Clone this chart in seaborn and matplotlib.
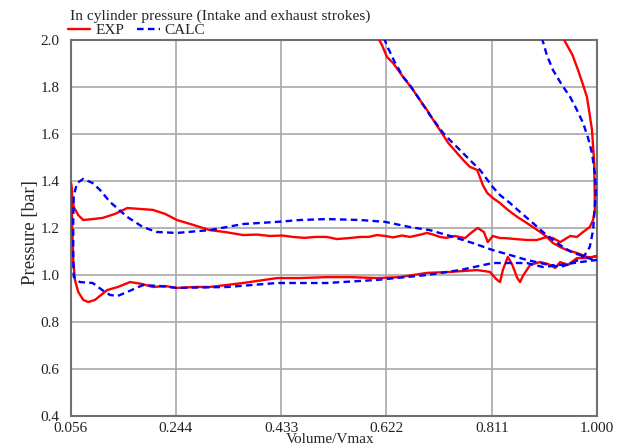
import matplotlib
matplotlib.use("Agg")
import matplotlib.pyplot as plt
import seaborn as sns
import pandas as pd

# ---------------- data ----------------
exp_x = [0.939, 0.956, 0.966, 0.975, 0.982, 0.987, 0.991, 0.995, 0.996, 0.996, 0.993, 0.987, 0.975, 0.964,
         0.952, 0.934, 0.921, 0.910, 0.892, 0.874, 0.853, 0.835, 0.826, 0.813, 0.804, 0.797, 0.786, 0.776,
         0.763, 0.745, 0.730, 0.718, 0.706, 0.695, 0.680, 0.664, 0.650, 0.634, 0.620, 0.605, 0.590, 0.575,
         0.555, 0.533, 0.515, 0.494, 0.475, 0.454, 0.435, 0.413, 0.390, 0.365, 0.332,
         0.305, 0.270, 0.246, 0.225, 0.203, 0.180, 0.157, 0.135, 0.113, 0.095, 0.078, 0.069, 0.061, 0.058,
         0.056,
         0.058, 0.060, 0.063, 0.069, 0.078, 0.087, 0.099, 0.121, 0.140, 0.162, 0.183, 0.203, 0.225, 0.246,
         0.279, 0.305, 0.365, 0.426, 0.467, 0.515, 0.557, 0.605, 0.646, 0.695, 0.736, 0.785, 0.808, 0.819,
         0.826, 0.831, 0.840, 0.848, 0.857, 0.862, 0.867, 0.880, 0.898, 0.912, 0.925, 0.934, 0.948, 0.964,
         0.982, 1.000,
         0.987, 0.964, 0.946, 0.934, 0.921, 0.910, 0.898, 0.885, 0.871, 0.857, 0.840, 0.826, 0.813, 0.803,
         0.795, 0.785, 0.772, 0.760, 0.749, 0.733, 0.718, 0.706, 0.695, 0.682, 0.670, 0.652, 0.634, 0.623,
         0.614, 0.607]
exp_y = [2.009, 1.936, 1.872, 1.809, 1.757, 1.681, 1.617, 1.477, 1.332, 1.277, 1.234, 1.204, 1.183, 1.162,
         1.166, 1.140, 1.157, 1.162, 1.149, 1.149, 1.153, 1.157, 1.157, 1.166, 1.140, 1.183, 1.200, 1.183,
         1.157, 1.166, 1.158, 1.162, 1.172, 1.179, 1.170, 1.162, 1.168, 1.160, 1.166, 1.170, 1.162, 1.162,
         1.157, 1.153, 1.162, 1.162, 1.158, 1.162, 1.168, 1.166, 1.172, 1.170, 1.183,
         1.191, 1.217, 1.234, 1.260, 1.277, 1.281, 1.285, 1.260, 1.243, 1.238, 1.234, 1.255, 1.289, 1.340,
         1.390,
         1.234, 1.064, 0.979, 0.928, 0.894, 0.885, 0.894, 0.936, 0.949, 0.970, 0.962, 0.949, 0.953, 0.945,
         0.949, 0.949, 0.966, 0.987, 0.987, 0.991, 0.991, 0.987, 0.991, 1.009, 1.013, 1.021, 1.013, 0.983,
         0.970, 1.021, 1.077, 1.043, 0.987, 0.970, 0.996, 1.043, 1.055, 1.047, 1.030, 1.055, 1.043, 1.072,
         1.072, 1.081,
         1.072, 1.094, 1.106, 1.119, 1.136, 1.162, 1.183, 1.204, 1.226, 1.247, 1.277, 1.306, 1.328, 1.349,
         1.383, 1.447, 1.460, 1.489, 1.519, 1.562, 1.617, 1.660, 1.702, 1.745, 1.787, 1.843, 1.902, 1.928,
         1.979, 2.009]

calc_x = [0.901, 0.910, 0.921, 0.937, 0.952, 0.964, 0.975, 0.984, 0.991, 0.996, 0.998, 0.996, 0.993, 0.987,
          0.978, 0.966,
          0.952, 0.934, 0.906, 0.874, 0.844, 0.813, 0.777, 0.742, 0.700, 0.664, 0.620, 0.575, 0.515, 0.467,
          0.426, 0.365, 0.305, 0.246, 0.210, 0.185, 0.157, 0.126, 0.108, 0.095, 0.078, 0.067, 0.061, 0.060,
          0.060, 0.061,
          0.072, 0.095, 0.112, 0.126, 0.140, 0.157, 0.185, 0.216, 0.246, 0.336, 0.426, 0.515, 0.605, 0.695,
          0.754, 0.813, 0.874, 0.903, 0.934, 0.970, 1.000,
          0.993, 0.975, 0.957, 0.939, 0.921, 0.903, 0.885, 0.862, 0.844, 0.826, 0.813, 0.790, 0.772, 0.754,
          0.736, 0.724, 0.700, 0.682, 0.664, 0.652, 0.637, 0.625, 0.619, 0.618]
calc_y = [2.009, 1.936, 1.872, 1.809, 1.757, 1.702, 1.647, 1.583, 1.519, 1.434, 1.362, 1.289, 1.191, 1.119,
          1.085, 1.064,
          1.047, 1.034, 1.047, 1.064, 1.085, 1.106, 1.136, 1.162, 1.191, 1.204, 1.226, 1.234, 1.238, 1.234,
          1.226, 1.217, 1.191, 1.179, 1.183, 1.204, 1.247, 1.311, 1.362, 1.391, 1.409, 1.391, 1.340, 1.234,
          1.064, 0.992,
          0.970, 0.966, 0.936, 0.915, 0.911, 0.928, 0.957, 0.953, 0.945, 0.949, 0.966, 0.966, 0.979, 1.000,
          1.021, 1.051, 1.051, 1.034, 1.043, 1.055, 1.064,
          1.064, 1.081, 1.094, 1.119, 1.149, 1.183, 1.221, 1.268, 1.306, 1.340, 1.374, 1.447, 1.489, 1.532,
          1.574, 1.604, 1.681, 1.745, 1.809, 1.843, 1.906, 1.966, 2.000, 2.013]

x_ticks = [0.056, 0.244, 0.433, 0.622, 0.811, 1.000]
x_tick_labels = ["0.056", "0.244", "0.433", "0.622", "0.811", "1.000"]
y_ticks = [0.4, 0.6, 0.8, 1.0, 1.2, 1.4, 1.6, 1.8, 2.0]
y_tick_labels = ["0.4", "0.6", "0.8", "1.0", "1.2", "1.4", "1.6", "1.8", "2.0"]

title = "In cylinder pressure (Intake and exhaust strokes)"
series_names = ["EXP", "CALC"]

# ---------------- plot ----------------
sns.set_theme(style="white")
plt.rcParams['font.family'] = ['Liberation Serif', 'DejaVu Serif']

fig = plt.figure(figsize=(6.2, 4.48), dpi=100)
ax = fig.add_axes([71 / 620, 1 - 416 / 448, 526 / 620, 376 / 448])

df_exp = pd.DataFrame({"x": exp_x, "y": exp_y})
df_calc = pd.DataFrame({"x": calc_x, "y": calc_y})

sns.lineplot(data=df_exp, x="x", y="y", sort=False, estimator=None, ax=ax,
             color="#ff0000", linewidth=1.7, label=series_names[0], zorder=3)
sns.lineplot(data=df_calc, x="x", y="y", sort=False, estimator=None, ax=ax,
             color="#0000ff", linewidth=1.7, label=series_names[1], zorder=4,
             dashes=False)
ax.lines[1].set_linestyle((0, (2.8, 1.8)))

ax.set_xlim(0.056, 1.0)
ax.set_ylim(0.4, 2.0)
ax.set_xticks(x_ticks)
ax.set_xticklabels(x_tick_labels)
ax.set_yticks(y_ticks)
ax.set_yticklabels(y_tick_labels)
ax.grid(True, color="#a8a8a8", linewidth=1.2)
ax.set_axisbelow(True)
for s in ax.spines.values():
    s.set_color("#707070")
    s.set_linewidth(1.5)
ax.tick_params(axis="both", length=0, labelsize=11, colors="#222222")
ax.tick_params(axis="y", pad=8.5)
ax.tick_params(axis="x", pad=4.5)

ax.set_xlabel("Volume/Vmax", fontsize=11)
ax.set_ylabel("Pressure [bar]", fontsize=13.5)
ax.xaxis.set_label_coords(0.492, -0.045)
ax.yaxis.set_label_coords(-0.06, 0.487)

fig.text(70 / 620, 1 - 16 / 448, title, fontsize=11.1, ha="left", va="center")

leg = ax.legend(loc="upper left", bbox_to_anchor=(68 / 620, 1 - 23.5 / 448),
                bbox_transform=fig.transFigure, ncol=2, frameon=False,
                fontsize=11, handlelength=1.45, handletextpad=0.35,
                columnspacing=0.85, borderaxespad=0, borderpad=0)

fig.savefig("out.png", dpi=100)
